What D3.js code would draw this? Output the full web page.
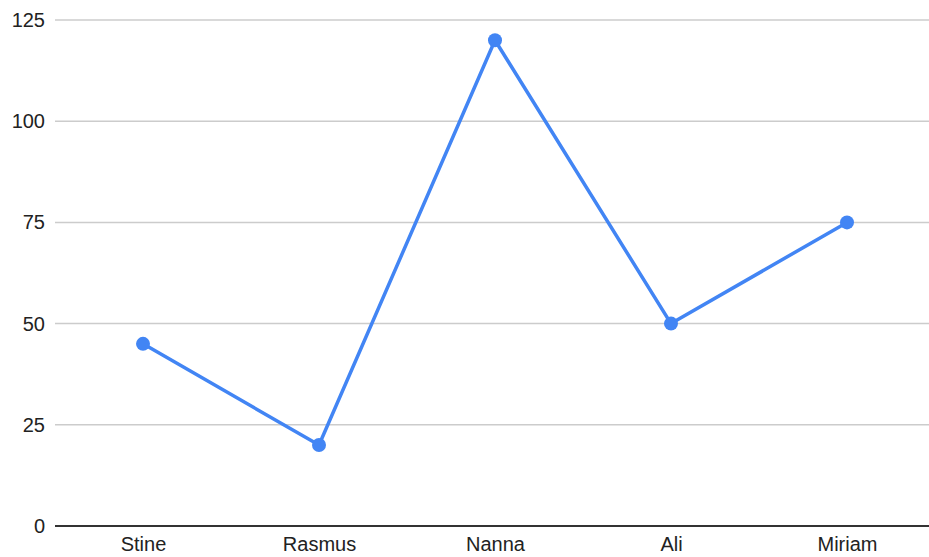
<!DOCTYPE html>
<html><head><meta charset="utf-8">
<script src="https://cdn.jsdelivr.net/npm/d3@7"></script>
<style>body{margin:0;background:#fff}svg{display:block}</style>
</head><body><svg id="c" width="929" height="557"></svg>
<script>
const categories = ["Stine", "Rasmus", "Nanna", "Ali", "Miriam"];
const values = [45, 20, 120, 50, 75];
const yTicks = [0, 25, 50, 75, 100, 125];

(function () {
const svg = d3.select("#c");
const mLeft = 55, mRight = 935, mTop = 20, mBottom = 526;
const x = d3.scalePoint().domain(categories).range([mLeft, mRight]).padding(0.5);
const y = d3.scaleLinear().domain([0, 125]).range([mBottom, mTop]);
const font = "'Liberation Sans', Arial, sans-serif";

// gridlines
svg.append("g").selectAll("line").data(yTicks.filter(d => d !== 0)).join("line")
  .attr("x1", mLeft).attr("x2", 929)
  .attr("y1", d => y(d)).attr("y2", d => y(d))
  .attr("stroke", "#cccccc").attr("stroke-width", 1.5);

// y labels
const yAxis = d3.axisLeft(y).tickValues(yTicks).tickSize(0).tickPadding(10);
const gy = svg.append("g").attr("transform", `translate(${mLeft},0)`).call(yAxis);
gy.select(".domain").remove();
gy.selectAll("text").attr("font-family", font).attr("font-size", 20).attr("fill", "#222");

// x axis
const xAxis = d3.axisBottom(x).tickSize(0).tickPadding(11);
const gx = svg.append("g").attr("transform", `translate(0,${mBottom})`).call(xAxis);
gx.select(".domain").remove();
gx.selectAll("text").attr("font-family", font).attr("font-size", 20).attr("fill", "#222");
svg.append("line").attr("x1", mLeft).attr("x2", 929).attr("y1", y(0)).attr("y2", y(0))
  .attr("stroke", "#333").attr("stroke-width", 2);

// line
const line = d3.line().x((d, i) => x(categories[i])).y(d => y(d));
svg.append("path").datum(values).attr("d", line)
  .attr("fill", "none").attr("stroke", "#4285f4").attr("stroke-width", 3.5)
  .attr("stroke-linejoin", "round");
svg.append("g").selectAll("circle").data(values).join("circle")
  .attr("cx", (d, i) => x(categories[i])).attr("cy", d => y(d)).attr("r", 7)
  .attr("fill", "#4285f4");
})();
</script></body></html>
